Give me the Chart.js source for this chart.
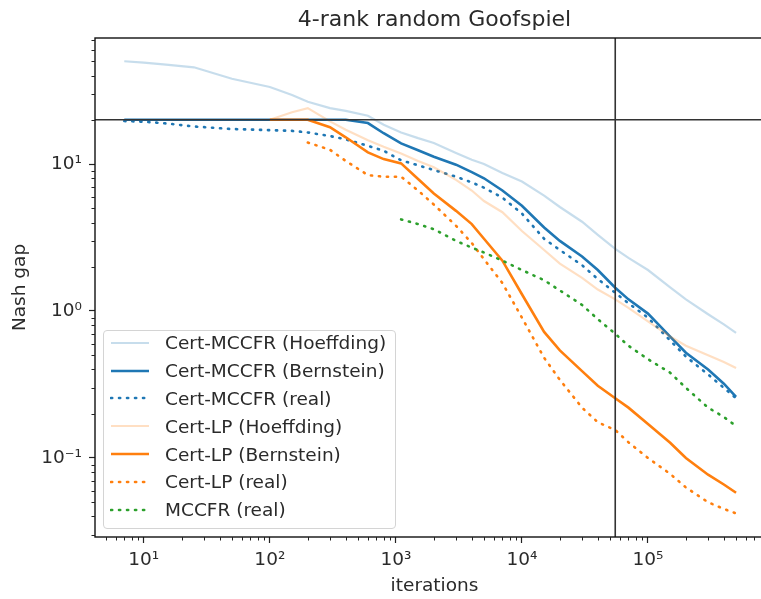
<!DOCTYPE html>
<html lang="en">
<head>
<meta charset="UTF-8">
<title>4-rank random Goofspiel</title>
<script src="https://cdn.jsdelivr.net/npm/chart.js"></script>
<style>
  html, body { margin: 0; padding: 0; background: #fff; overflow: hidden; }
  #wrap { position: relative; width: 790px; height: 599px; }
  #legend {
    position: absolute; left: 103px; top: 330px; width: 293px; height: 199px;
    box-sizing: border-box; border: 1px solid #d4d4d4; border-radius: 4px;
    background: rgba(255,255,255,0.8);
    font-family: "DejaVu Sans"; font-size: 18.5px; color: #2a2a2a;
  }
  #legend .rows { margin-top: -2px; }
  #legend .row { display: flex; align-items: center; height: 27.8px; white-space: nowrap; }
  #legend svg { margin-left: 6px; margin-right: 15px; flex: none; }
</style>
</head>
<body>
<div id="wrap">
  <canvas id="gapChart" width="790" height="599"></canvas>
  <div id="legend"><div class="rows"></div></div>
</div>

<script>
// iterations (x) shared by every series; null = series not yet started
const iterations = [7, 10, 15, 25, 50, 100, 150, 200, 300, 400, 600, 800, 1100, 1500, 2000,
  3000, 4000, 5000, 7000, 10000, 15000, 20000, 30000, 40000, 55000, 70000, 100000,
  150000, 200000, 300000, 400000, 500000];

const certMccfrHoeffding = [50, 49, 47.5, 45.5, 38, 33.4, 29.5, 26.5, 24, 23, 21.3, 18.5, 16.4, 15, 13.9,
  11.9, 10.7, 10.0, 8.7, 7.6, 6.1, 5.1, 4.05, 3.3, 2.65, 2.3, 1.9, 1.45, 1.2, 0.95, 0.81, 0.71];
const certMccfrBernstein = [20, 20, 20, 20, 20, 20, 20, 20, 20, 20, 19, 16.2, 13.8, 12.4, 11.2,
  9.9, 8.8, 8.0, 6.6, 5.2, 3.7, 3.0, 2.35, 1.9, 1.44, 1.2, 0.96, 0.67, 0.52, 0.4, 0.32, 0.26];
const certMccfrReal = [19.6, 19.4, 18.9, 18, 17.3, 17, 16.8, 16.4, 15.5, 14.7, 13.3, 12.3, 10.6, 9.8, 9.1,
  8.2, 7.5, 6.9, 5.9, 4.6, 3.1, 2.6, 2.05, 1.65, 1.33, 1.13, 0.9, 0.63, 0.49, 0.37, 0.3, 0.255];
const certLpHoeffding = [null, null, null, null, null, 20, 22.5, 24, 19.5, 17.1, 14.5, 13.1, 11.8, 10.5, 9.5,
  7.8, 6.6, 5.6, 4.7, 3.5, 2.6, 2.1, 1.68, 1.4, 1.2, 1.05, 0.85, 0.67, 0.58, 0.5, 0.45, 0.41];
const certLpBernstein = [null, null, null, null, null, 20, 20, 20, 17.8, 15.2, 12, 10.8, 10.1, 7.9, 6.3,
  4.8, 3.9, 3.1, 2.2, 1.3, 0.72, 0.54, 0.39, 0.31, 0.255, 0.22, 0.17, 0.127, 0.1, 0.077, 0.066, 0.058];
const certLpReal = [null, null, null, null, null, null, null, 14, 12.5, 10.5, 8.4, 8.2, 8.2, 6.6, 5.3,
  3.8, 2.9, 2.25, 1.55, 0.9, 0.48, 0.34, 0.22, 0.175, 0.155, 0.128, 0.1, 0.078, 0.063, 0.05, 0.045, 0.042];
const mccfrReal = [null, null, null, null, null, null, null, null, null, null, null, null, 4.2, 3.9, 3.6,
  3.0, 2.7, 2.5, 2.2, 1.9, 1.62, 1.38, 1.1, 0.88, 0.7, 0.58, 0.47, 0.38, 0.3, 0.22, 0.19, 0.165];

const seriesNames = ['Cert-MCCFR (Hoeffding)', 'Cert-MCCFR (Bernstein)', 'Cert-MCCFR (real)',
  'Cert-LP (Hoeffding)', 'Cert-LP (Bernstein)', 'Cert-LP (real)', 'MCCFR (real)'];
const seriesValues = [certMccfrHoeffding, certMccfrBernstein, certMccfrReal,
  certLpHoeffding, certLpBernstein, certLpReal, mccfrReal];

// tick labels (powers of ten only; minor ticks get no label)
const xTickValues = [10, 100, 1000, 10000, 100000];
const xTickLabels = ['10¹', '10²', '10³', '10⁴', '10⁵'];
const yTickValues = [0.1, 1, 10];
const yTickLabels = ['10⁻¹', '10⁰', '10¹'];

// reference lines
const refGap = 20;
const refIteration = 55000;

const BLUE = '#1f77b4', ORANGE = '#ff7f0e', GREEN = '#2ca02c';
const styles = [
  { color: 'rgba(31,119,180,0.25)', width: 2.2, dash: [] },
  { color: BLUE, width: 2.6, dash: [] },
  { color: BLUE, width: 2.6, dash: [1.2, 6.8] },
  { color: 'rgba(255,127,14,0.25)', width: 2.2, dash: [] },
  { color: ORANGE, width: 2.6, dash: [] },
  { color: ORANGE, width: 2.6, dash: [1.2, 6.8] },
  { color: GREEN, width: 2.6, dash: [1.2, 6.8] }
];

const datasets = seriesNames.map((name, i) => ({
  label: name,
  data: iterations.map((x, j) => ({ x: x, y: seriesValues[i][j] })),
  borderColor: styles[i].color,
  borderWidth: styles[i].width,
  borderDash: styles[i].dash,
  borderCapStyle: styles[i].dash.length ? 'round' : 'butt',
  pointRadius: 0,
  tension: 0,
  fill: false,
  order: seriesNames.length - i
}));

function isPow10(v) {
  const l = Math.log10(v);
  return Math.abs(l - Math.round(l)) < 1e-9;
}

function logTicks(scale) {
  const t = [];
  for (let e = -3; e <= 6; e++) {
    for (let m = 1; m <= 9; m++) {
      const v = m * Math.pow(10, e);
      if (v >= scale.min && v <= scale.max) t.push({ value: v });
    }
  }
  scale.ticks = t;
}

function labelFor(values, labels) {
  return v => {
    const k = values.findIndex(t => Math.abs(Math.log10(t) - Math.log10(v)) < 1e-9);
    return k >= 0 ? labels[k] : '';
  };
}

// reference lines, frame and short minor ticks
const framePlugin = {
  id: 'frame',
  afterLayout(chart) {
    const t = chart.titleBlock;
    if (t) {
      t.left = chart.chartArea.left;
      t.right = chart.chartArea.right;
      t.width = t.right - t.left;
    }
  },
  afterDatasetsDraw(chart) {
    const { ctx, chartArea: a, scales } = chart;
    ctx.save();
    ctx.strokeStyle = '#333';
    ctx.lineWidth = 1.6;
    const yp = scales.y.getPixelForValue(refGap);
    const xp = scales.x.getPixelForValue(refIteration);
    ctx.beginPath();
    ctx.moveTo(a.left, yp); ctx.lineTo(a.right, yp);
    ctx.moveTo(xp, a.top); ctx.lineTo(xp, a.bottom);
    ctx.stroke();
    ctx.restore();
  },
  afterDraw(chart) {
    const { ctx, chartArea: a, scales } = chart;
    ctx.save();
    ctx.strokeStyle = '#111';
    ctx.lineWidth = 1.4;
    ctx.strokeRect(a.left, a.top, a.right - a.left, a.bottom - a.top);
    ctx.lineWidth = 1;
    ctx.strokeStyle = '#222';
    ctx.beginPath();
    scales.x.ticks.forEach(t => {
      if (isPow10(t.value)) return;
      const p = Math.round(scales.x.getPixelForValue(t.value)) + 0.5;
      ctx.moveTo(p, a.bottom); ctx.lineTo(p, a.bottom + 3.5);
    });
    scales.y.ticks.forEach(t => {
      if (isPow10(t.value)) return;
      const p = Math.round(scales.y.getPixelForValue(t.value)) + 0.5;
      ctx.moveTo(a.left, p); ctx.lineTo(a.left - 3.5, p);
    });
    ctx.stroke();
    ctx.restore();
  }
};

Chart.defaults.font.family = 'DejaVu Sans';
Chart.defaults.color = '#2a2a2a';

const tickFont = { family: 'DejaVu Sans', size: 18.5 };
const gridOpts = {
  display: true,
  drawOnChartArea: false,
  drawTicks: true,
  tickLength: 6,
  tickWidth: 1.2,
  tickColor: c => (c.tick && isPow10(c.tick.value)) ? '#222' : 'rgba(0,0,0,0)'
};

new Chart(document.getElementById('gapChart'), {
  type: 'line',
  data: { datasets: datasets },
  plugins: [framePlugin],
  options: {
    responsive: false,
    animation: false,
    parsing: false,
    layout: { padding: { left: 0, right: 16, top: 0, bottom: 0 } },
    plugins: {
      legend: { display: false },
      tooltip: { enabled: false },
      title: {
        display: true,
        text: '4-rank random Goofspiel',
        color: '#2a2a2a',
        font: { family: 'DejaVu Sans', size: 22, weight: 'normal' },
        padding: { top: 7, bottom: 4.6 }
      }
    },
    scales: {
      x: {
        type: 'logarithmic',
        position: 'bottom',
        min: 4.1,
        max: 1e6,
        afterBuildTicks: logTicks,
        afterFit: s => { s.height = 62; },
        ticks: {
          autoSkip: false, maxRotation: 0, padding: 6, font: tickFont,
          callback: labelFor(xTickValues, xTickLabels)
        },
        grid: gridOpts,
        border: { display: false },
        title: {
          display: true, text: 'iterations', font: tickFont,
          padding: { top: 0, bottom: 2 }
        }
      },
      y: {
        type: 'logarithmic',
        min: 0.029,
        max: 72,
        afterBuildTicks: logTicks,
        afterFit: s => { s.width = 95; },
        ticks: {
          autoSkip: false, padding: 7, font: tickFont,
          callback: labelFor(yTickValues, yTickLabels)
        },
        grid: gridOpts,
        border: { display: false },
        title: {
          display: true, text: 'Nash gap', font: tickFont,
          padding: { top: 9, bottom: 0 }
        }
      }
    }
  }
});

// legend box built from the same series list
const rows = document.querySelector('#legend .rows');
seriesNames.forEach((name, i) => {
  const st = styles[i];
  const row = document.createElement('div');
  row.className = 'row';
  const dash = st.dash.length ? `stroke-dasharray="${st.dash.join(' ')}" stroke-linecap="round"` : '';
  row.innerHTML = `<svg width="40" height="10"><line x1="1" y1="5" x2="39" y2="5" stroke="${st.color}" stroke-width="${st.width}" ${dash}/></svg><span>${name}</span>`;
  rows.appendChild(row);
});
</script>
</body>
</html>
